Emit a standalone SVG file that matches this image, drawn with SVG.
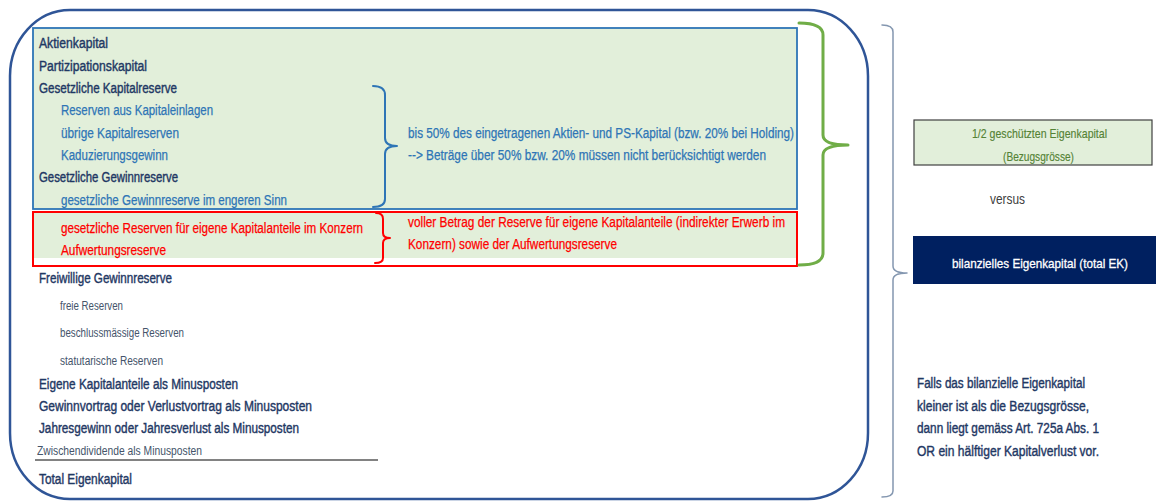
<svg xmlns="http://www.w3.org/2000/svg" width="1158" height="501" viewBox="0 0 1158 501">
<style>
text{font-family:"Liberation Sans",Arial,sans-serif;font-size:14px}
.nv{fill:#1F3864;stroke:#1F3864;stroke-width:0.4}
.bl{fill:#2E75B6;stroke:#2E75B6;stroke-width:0.25}
.rd{fill:#FF0000;stroke:#FF0000;stroke-width:0.25}
.sm{fill:#44546A;font-size:12.5px}
.gr{fill:#548235;font-size:13.5px;stroke:#548235;stroke-width:0.15}
.wh{fill:#FFFFFF;stroke:#FFFFFF;stroke-width:0.3;font-size:13px}
.brace{fill:none;stroke-linejoin:round;stroke-linecap:round}
</style>
<rect width="1158" height="501" fill="#FFFFFF"/>

<g id="outer-frame">
<rect x="10" y="10" width="858" height="489" rx="60" ry="66" fill="none" stroke="#2F5597" stroke-width="2.5"/>
</g>

<g id="protected-block">
<rect x="33" y="28" width="764" height="181" fill="#E2EFDA" stroke="#2E75B6" stroke-width="1.8"/>
<text class="nv" x="39" y="48" textLength="69" lengthAdjust="spacingAndGlyphs">Aktienkapital</text>
<text class="nv" x="39" y="70.5" textLength="108" lengthAdjust="spacingAndGlyphs">Partizipationskapital</text>
<text class="nv" x="39" y="93" textLength="138" lengthAdjust="spacingAndGlyphs">Gesetzliche Kapitalreserve</text>
<text class="bl" x="61" y="115" textLength="152" lengthAdjust="spacingAndGlyphs">Reserven aus Kapitaleinlagen</text>
<text class="bl" x="61" y="137.5" textLength="118" lengthAdjust="spacingAndGlyphs">übrige Kapitalreserven</text>
<text class="bl" x="61" y="160" textLength="107" lengthAdjust="spacingAndGlyphs">Kaduzierungsgewinn</text>
<text class="nv" x="39" y="182" textLength="139" lengthAdjust="spacingAndGlyphs">Gesetzliche Gewinnreserve</text>
<text class="bl" x="61" y="204.5" textLength="226" lengthAdjust="spacingAndGlyphs">gesetzliche Gewinnreserve im engeren Sinn</text>
<text class="bl" x="408" y="137.5" textLength="386" lengthAdjust="spacingAndGlyphs">bis 50% des eingetragenen Aktien- und PS-Kapital (bzw. 20% bei Holding)</text>
<text class="bl" x="408" y="160" textLength="358" lengthAdjust="spacingAndGlyphs">--&gt; Beträge über 50% bzw. 20% müssen nicht berücksichtigt werden</text>
</g>

<g id="full-amount-block">
<rect x="33" y="212" width="764" height="46" fill="#E2EFDA"/>
<rect x="33" y="212" width="764" height="54" fill="none" stroke="#FF0000" stroke-width="2"/>
<text class="rd" x="61" y="232.5" textLength="302" lengthAdjust="spacingAndGlyphs">gesetzliche Reserven für eigene Kapitalanteile im Konzern</text>
<text class="rd" x="61" y="254.5" textLength="105" lengthAdjust="spacingAndGlyphs">Aufwertungsreserve</text>
<text class="rd" x="408" y="226.5" textLength="377" lengthAdjust="spacingAndGlyphs">voller Betrag der Reserve für eigene Kapitalanteile (indirekter Erwerb im</text>
<text class="rd" x="408" y="249" textLength="209" lengthAdjust="spacingAndGlyphs">Konzern) sowie der Aufwertungsreserve</text>
</g>

<g id="other-items">
<text class="nv" x="39" y="282.5" textLength="133" lengthAdjust="spacingAndGlyphs">Freiwillige Gewinnreserve</text>
<text class="sm" x="60" y="309.5" textLength="63" lengthAdjust="spacingAndGlyphs">freie Reserven</text>
<text class="sm" x="60" y="337" textLength="124" lengthAdjust="spacingAndGlyphs">beschlussmässige Reserven</text>
<text class="sm" x="60" y="365" textLength="103" lengthAdjust="spacingAndGlyphs">statutarische Reserven</text>
<text class="nv" x="39" y="388.5" textLength="199" lengthAdjust="spacingAndGlyphs">Eigene Kapitalanteile als Minusposten</text>
<text class="nv" x="39" y="410.5" textLength="273" lengthAdjust="spacingAndGlyphs">Gewinnvortrag oder Verlustvortrag als Minusposten</text>
<text class="nv" x="39" y="432.5" textLength="260" lengthAdjust="spacingAndGlyphs">Jahresgewinn oder Jahresverlust als Minusposten</text>
<text class="sm" x="37" y="454.5" textLength="165" lengthAdjust="spacingAndGlyphs">Zwischendividende als Minusposten</text>
<line x1="35" y1="460" x2="378" y2="460" stroke="#595959" stroke-width="1.5"/>
<text class="nv" x="39" y="484" textLength="93" lengthAdjust="spacingAndGlyphs">Total Eigenkapital</text>
</g>

<g id="reference-size">
<rect x="914" y="120" width="238" height="45" fill="#E2EFDA" stroke="#404040" stroke-width="1.2"/>
<text class="gr" x="1039.5" y="138" text-anchor="middle" textLength="135" lengthAdjust="spacingAndGlyphs">1/2 geschützten Eigenkapital</text>
<text class="gr" x="1038.5" y="161" text-anchor="middle" textLength="71" lengthAdjust="spacingAndGlyphs">(Bezugsgrösse)</text>
</g>

<g id="versus">
<text x="990" y="204" font-size="12" fill="#404040" textLength="35" lengthAdjust="spacingAndGlyphs">versus</text>
</g>

<g id="balance-equity">
<rect x="913" y="236" width="243" height="48" fill="#002060"/>
<text class="wh" x="1040" y="267.5" text-anchor="middle" textLength="176" lengthAdjust="spacingAndGlyphs">bilanzielles Eigenkapital (total EK)</text>
</g>

<g id="conclusion">
<text class="nv" x="917" y="387.5" textLength="168" lengthAdjust="spacingAndGlyphs">Falls das bilanzielle Eigenkapital</text>
<text class="nv" x="917" y="410.5" textLength="172" lengthAdjust="spacingAndGlyphs">kleiner ist als die Bezugsgrösse,</text>
<text class="nv" x="917" y="433" textLength="182" lengthAdjust="spacingAndGlyphs">dann liegt gemäss Art. 725a Abs. 1</text>
<text class="nv" x="917" y="455.5" textLength="182" lengthAdjust="spacingAndGlyphs">OR ein hälftiger Kapitalverlust vor.</text>
</g>

<g id="connectors">
<path class="brace" stroke="#2E75B6" stroke-width="2" d="M373,86 Q385,86 385,95 L385,138 Q385,146 397,146 Q385,146 385,154 L385,199 Q385,207 373,207"/>
<path class="brace" stroke="#FF0000" stroke-width="2" d="M376,213 Q383,213 383,219 L383,233 Q383,238 390,238 Q383,238 383,243 L383,258 Q383,263 375,263"/>
<path class="brace" stroke="#70AD47" stroke-width="3" d="M799,23 Q823,23 823,35 L823,135 Q823,145 848,145 Q823,145 823,155 L823,253 Q823,265 799,265"/>
<path class="brace" stroke="#8497B0" stroke-width="1.5" d="M882,25 Q893,25 893,32 L893,266 Q893,273 907,273 Q893,273 893,280 L893,491 Q893,497 882,497"/>
</g>
</svg>
